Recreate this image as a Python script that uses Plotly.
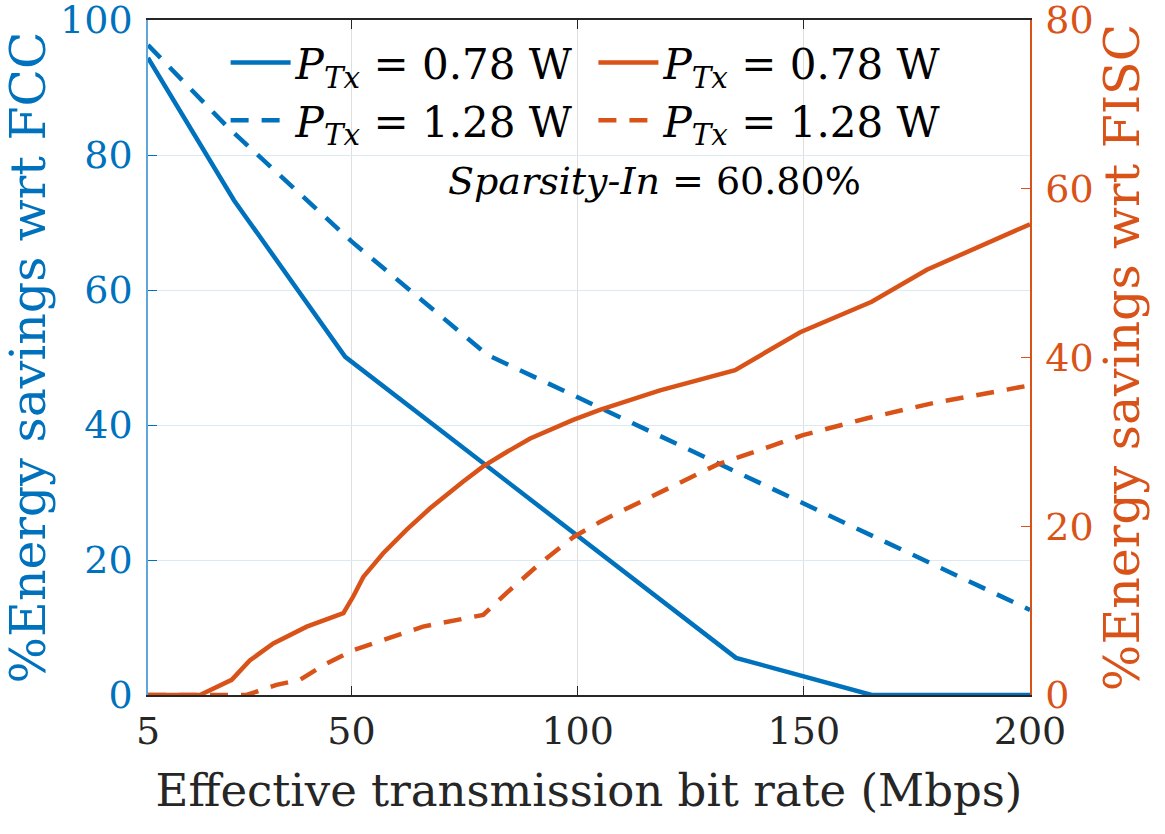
import plotly.graph_objects as go

# ---- data ----
bitrate_fcc_078 = [5, 24, 48.6, 135, 165, 200]
fcc_078 = [94.4, 73.3, 50.1, 5.5, 0, 0]

bitrate_fcc_128 = [5, 22.5, 50, 80, 200]
fcc_128 = [96.3, 84.2, 67.2, 50.4, 12.6]

bitrate_fisc_078 = [5, 16.5, 23.5, 27.5, 32.7, 40.1, 48.2, 50.4, 52.6, 57.0, 62.2,
                    67.3, 74.7, 79.1, 84.3, 89.5, 99.0, 104.9, 118.2, 134.8, 149.2,
                    165, 177.2, 200]
fisc_078 = [0, 0, 1.8, 4.1, 6.1, 8.1, 9.7, 11.7, 14.0, 16.8, 19.6,
            22.1, 25.3, 27.1, 28.8, 30.4, 32.6, 33.8, 36.1, 38.5, 43.0,
            46.6, 50.4, 55.8]

bitrate_fisc_128 = [5, 26.8, 30.1, 33.4, 38.6, 43.7, 50.3, 65.8, 79.1, 84.3, 91.7,
                    99.0, 104.9, 107.8, 130.8, 149.8, 164, 178.6, 200]
fisc_128 = [0, 0, 0.6, 1.2, 1.8, 3.5, 5.3, 8.1, 9.5, 12.1, 15.6,
            18.7, 20.5, 21.3, 27.3, 30.8, 32.8, 34.6, 36.7]

x_ticks = [5, 50, 100, 150, 200]
left_ticks = [0, 20, 40, 60, 80, 100]
right_ticks = [0, 20, 40, 60, 80]

BLUE = "#0072BD"
ORANGE = "#D95319"
DARK = "#262626"
FONT = "DejaVu Serif"
DASH = "18px,13px"
LW = 4.5

lab078 = "<i>P</i><sub><i>Tx</i></sub> = 0.78 W"
lab128 = "<i>P</i><sub><i>Tx</i></sub> = 1.28 W"

fig = go.Figure()
fig.add_trace(go.Scatter(x=bitrate_fcc_078, y=fcc_078, mode="lines", name=lab078,
                         line=dict(color=BLUE, width=LW), yaxis="y", legend="legend"))
fig.add_trace(go.Scatter(x=bitrate_fcc_128, y=fcc_128, mode="lines", name=lab128,
                         line=dict(color=BLUE, width=LW, dash=DASH), yaxis="y", legend="legend"))
fig.add_trace(go.Scatter(x=bitrate_fisc_078, y=fisc_078, mode="lines", name=lab078,
                         line=dict(color=ORANGE, width=LW), yaxis="y2", legend="legend2"))
fig.add_trace(go.Scatter(x=bitrate_fisc_128, y=fisc_128, mode="lines", name=lab128,
                         line=dict(color=ORANGE, width=LW, dash=DASH), yaxis="y2", legend="legend2"))

legend_common = dict(font=dict(family=FONT, size=42, color="black"),
                     bgcolor="rgba(255,255,255,0)", borderwidth=0,
                     orientation="v", xanchor="left", yanchor="top",
                     itemwidth=60, tracegroupgap=0)

fig.update_layout(
    width=1165, height=834,
    margin=dict(l=148, r=135, t=20, b=139, autoexpand=False),
    paper_bgcolor="white", plot_bgcolor="white",
    showlegend=True,
    legend=dict(x=0.088, y=0.987, **legend_common),
    legend2=dict(x=0.505, y=0.987, **legend_common),
    xaxis=dict(range=[5, 200], tickvals=x_ticks, ticktext=[str(v) for v in x_ticks],
               showline=True, linecolor=DARK, linewidth=1.5, mirror="ticks",
               ticks="inside", ticklen=9, tickcolor=DARK,
               showgrid=True, gridcolor="#dfdfdf", gridwidth=1,
               zeroline=False, ticklabelstandoff=2, ticklabeloverflow="allow",
               tickfont=dict(family=FONT, size=38, color=DARK),
               title=dict(text="Effective transmission bit rate (Mbps)", standoff=22,
                          font=dict(family=FONT, size=45, color=DARK))),
    yaxis=dict(range=[0, 100], tickvals=left_ticks,
               showline=True, linecolor="#5fa6da", linewidth=1.5,
               ticks="inside", ticklen=9, tickcolor=BLUE,
               showgrid=True, gridcolor="#d9eaf5", gridwidth=1, zeroline=False,
               ticklabelstandoff=6, ticklabeloverflow="allow",
               tickfont=dict(family=FONT, size=38, color=BLUE),
               title=dict(text="%Energy savings wrt FCC", standoff=0,
                          font=dict(family=FONT, size=49, color=BLUE))),
    yaxis2=dict(range=[0, 80], tickvals=right_ticks, overlaying="y", side="right",
                showline=True, linecolor=ORANGE, linewidth=1.5,
                ticks="inside", ticklen=9, tickcolor=ORANGE,
                showgrid=False, zeroline=False, ticklabelstandoff=6,
                ticklabeloverflow="allow",
                tickfont=dict(family=FONT, size=38, color=ORANGE),
                title=dict(text="%Energy savings wrt FISC", standoff=0,
                           font=dict(family=FONT, size=49, color=ORANGE))),
    annotations=[dict(text="<i>Sparsity-In</i> = 60.80%", x=0.574, y=0.762,
                      xref="paper", yref="paper", showarrow=False,
                      xanchor="center", yanchor="middle",
                      font=dict(family=FONT, size=38, color="black"))],
)

fig.write_html("out.html")
